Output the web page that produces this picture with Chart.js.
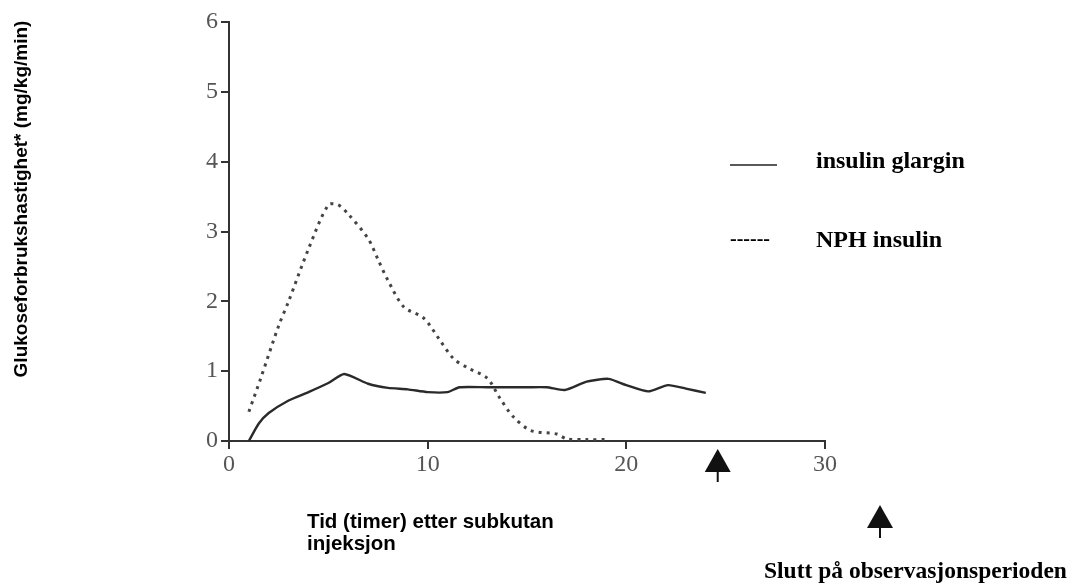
<!DOCTYPE html>
<html>
<head>
<meta charset="utf-8">
<script src="https://cdn.jsdelivr.net/npm/chart.js@4/dist/chart.umd.min.js"></script>
<style>
  html, body { margin: 0; padding: 0; background: #fff; }
  #wrap { width: 1073px; height: 587px; position: relative; }
</style>
</head>
<body>
<div id="wrap"><canvas id="glukoseChart" width="1073" height="587"></canvas></div>
<script>
// data (hours after injection, mg/kg/min)
const glarginHours = [1, 1.5, 2, 3, 4, 5, 5.8, 7, 8, 9, 10, 11, 11.6, 13, 14, 15, 16, 16.9, 18, 19.1, 20, 21.1, 22.1, 23, 24];
const glarginValues = [0, 0.25, 0.40, 0.58, 0.70, 0.83, 0.96, 0.82, 0.76, 0.74, 0.70, 0.70, 0.77, 0.77, 0.77, 0.77, 0.77, 0.73, 0.85, 0.89, 0.80, 0.71, 0.80, 0.75, 0.69];
const nphHours = [1, 1.6, 2.5, 3, 4, 5, 5.5, 6, 7, 7.5, 8, 8.8, 9.8, 10.6, 11.3, 12, 13, 13.6, 14.3, 15.2, 16.5, 17, 18, 19];
const nphValues = [0.42, 0.90, 1.65, 2.0, 2.75, 3.38, 3.38, 3.25, 2.9, 2.6, 2.3, 1.92, 1.76, 1.45, 1.18, 1.05, 0.90, 0.63, 0.35, 0.15, 0.10, 0.03, 0.02, 0.02];
const xTicks = [0, 10, 20, 30];
const yTicks = [0, 1, 2, 3, 4, 5, 6];
const endOfObservation = 24.6;

const seriesNames = ['insulin glargin', 'NPH insulin'];
const yTitle = 'Glukoseforbrukshastighet* (mg/kg/min)';
const xTitle = ['Tid (timer) etter subkutan', 'injeksjon'];
const arrowText = 'Slutt på observasjonsperioden';

const toPoints = (xs, ys) => xs.map((x, i) => ({ x: x, y: ys[i] }));

function drawArrow(ctx, x, top) {
  ctx.save();
  ctx.fillStyle = '#111';
  ctx.strokeStyle = '#111';
  ctx.beginPath();
  ctx.moveTo(x, top);
  ctx.lineTo(x - 13, top + 23);
  ctx.lineTo(x + 13, top + 23);
  ctx.closePath();
  ctx.fill();
  ctx.lineWidth = 2;
  ctx.beginPath();
  ctx.moveTo(x, top + 22);
  ctx.lineTo(x, top + 33);
  ctx.stroke();
  ctx.restore();
}

// legend, arrows and the loose texts around the plot
const extrasPlugin = {
  id: 'extras',
  afterDraw(chart) {
    const ctx = chart.ctx;
    const xs = chart.scales.x;

    ctx.save();
    // y title
    ctx.translate(22, 199);
    ctx.rotate(-Math.PI / 2);
    ctx.font = 'bold 19px "Liberation Sans", Arial, sans-serif';
    ctx.fillStyle = '#000';
    ctx.textAlign = 'center';
    ctx.textBaseline = 'middle';
    ctx.fillText(yTitle, 0, 0);
    ctx.restore();

    // legend
    ctx.save();
    ctx.strokeStyle = '#222';
    ctx.lineWidth = 1.5;
    ctx.beginPath();
    ctx.moveTo(730, 165);
    ctx.lineTo(777, 165);
    ctx.stroke();
    ctx.fillStyle = '#000';
    ctx.textBaseline = 'middle';
    ctx.font = 'bold 20px "Liberation Serif", "Times New Roman", serif';
    ctx.fillText('------', 730, 240);
    ctx.font = 'bold 24px "Liberation Serif", "Times New Roman", serif';
    ctx.fillText(seriesNames[0], 816, 162);
    ctx.fillText(seriesNames[1], 816, 241);
    ctx.restore();

    // arrows
    drawArrow(ctx, xs.getPixelForValue(endOfObservation), 449);
    drawArrow(ctx, 880, 505);

    // x title and arrow caption
    ctx.save();
    ctx.fillStyle = '#000';
    ctx.textBaseline = 'alphabetic';
    ctx.font = 'bold 20.5px "Liberation Sans", Arial, sans-serif';
    ctx.fillText(xTitle[0], 307, 528);
    ctx.fillText(xTitle[1], 307, 550);
    ctx.font = 'bold 23.5px "Liberation Serif", "Times New Roman", serif';
    ctx.textBaseline = 'middle';
    ctx.fillText(arrowText, 764, 572);
    ctx.restore();
  }
};

const axisFont = { family: '"Liberation Serif", "Times New Roman", serif', size: 24 };

new Chart(document.getElementById('glukoseChart'), {
  type: 'line',
  data: {
    datasets: [
      {
        label: seriesNames[0],
        data: toPoints(glarginHours, glarginValues),
        borderColor: '#2a2a2a',
        borderWidth: 2.4,
        pointRadius: 0,
        tension: 0.2,
      },
      {
        label: seriesNames[1],
        data: toPoints(nphHours, nphValues),
        borderColor: '#444',
        borderWidth: 3,
        borderDash: [3, 5],
        pointRadius: 0,
        tension: 0.3,
      },
    ],
  },
  options: {
    responsive: false,
    animation: false,
    layout: { padding: { left: 189, right: 248, top: 22, bottom: 106 } },
    plugins: {
      legend: { display: false },
      tooltip: { enabled: false },
    },
    scales: {
      x: {
        type: 'linear',
        min: 0,
        max: 30,
        afterFit(scale) { scale.height = 40; },
        afterBuildTicks(scale) { scale.ticks = xTicks.map(v => ({ value: v })); },
        grid: { drawOnChartArea: false, drawTicks: true, tickLength: 8, tickColor: '#333', lineWidth: 2 },
        border: { display: true, color: '#333', width: 2 },
        ticks: { font: axisFont, color: '#555', padding: 1, maxRotation: 0 },
      },
      y: {
        min: 0,
        max: 6,
        afterFit(scale) { scale.width = 40; },
        afterBuildTicks(scale) { scale.ticks = yTicks.map(v => ({ value: v })); },
        grid: { drawOnChartArea: false, drawTicks: true, tickLength: 8, tickColor: '#333', lineWidth: 2 },
        border: { display: true, color: '#333', width: 2 },
        ticks: { font: axisFont, color: '#555', padding: 3 },
      },
    },
  },
  plugins: [extrasPlugin],
});
</script>
</body>
</html>
